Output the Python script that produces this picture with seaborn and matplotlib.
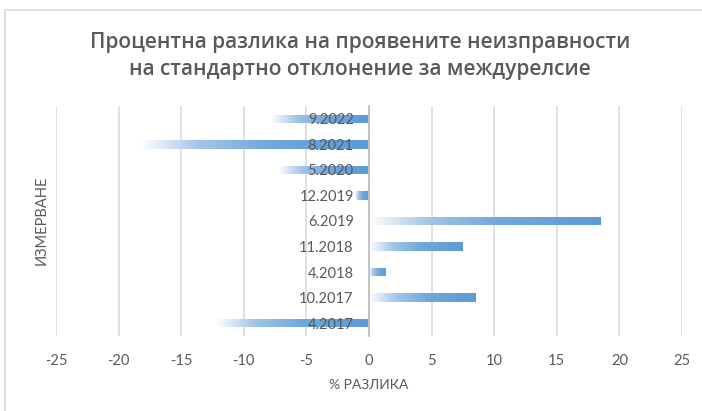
import numpy as np
import pandas as pd
import matplotlib
matplotlib.use("Agg")
import matplotlib.pyplot as plt
from matplotlib.colors import LinearSegmentedColormap
from matplotlib.patches import Rectangle
import seaborn as sns

## data (chronological, bottom to top in the chart)
periods = ["4.2017", "10.2017", "4.2018", "11.2018", "6.2019",
           "12.2019", "5.2020", "8.2021", "9.2022"]
diff_pct = [-12.2, 8.5, 1.3, 7.5, 18.5, -1.1, -7.3, -18.2, -7.8]
x_ticks = [-25, -20, -15, -10, -5, 0, 5, 10, 15, 20, 25]

title = "Процентна разлика на проявените неизправности\nна стандартно отклонение за междурелсие"
x_label = "% РАЗЛИКА"
y_label = "ИЗМЕРВАНЕ"

## setting
sns.set_style("white")
plt.rcParams['font.family'] = ['Lato', 'DejaVu Sans']
plt.rcParams['axes.unicode_minus'] = False
txt_col = "#595959"
grid_col = "#d9d9d9"
bar_col = "#5b9bd5"

df = pd.DataFrame({"period": periods, "diff": diff_pct})

fig = plt.figure(figsize=(7.02, 4.11), dpi=100)
ax = fig.add_axes([56/702, (411-336)/411, (682-56)/702, (336-106)/411])

sns.barplot(data=df, x="diff", y="period", order=periods[::-1], orient="h",
            width=0.33, color=bar_col, ax=ax)

## gradient fill, light on the left -> solid blue on the right
grad = LinearSegmentedColormap.from_list(
    "xl", [(0, "#ffffff"), (0.25, "#a3c6e8"), (0.55, "#72a8db"), (1, bar_col)])
ramp = np.linspace(0, 1, 256).reshape(1, -1)
for p in ax.patches:
    x0, y0 = p.get_x(), p.get_y()
    w, h = p.get_width(), p.get_height()
    left, right = min(x0, x0 + w), max(x0, x0 + w)
    im = ax.imshow(ramp, cmap=grad, aspect="auto", zorder=2,
                   extent=[left, right, y0 + h, y0], interpolation="bilinear")
    im.set_clip_path(p)
    p.set_facecolor("none")
    p.set_edgecolor("none")

ax.set_xlim(-25, 25)
ax.set_ylim(len(periods) - 0.5, -0.5)
ax.set_xticks(x_ticks)
ax.xaxis.grid(True, color=grid_col, lw=1.1)
ax.set_axisbelow(True)

for s in ["top", "right", "bottom"]:
    ax.spines[s].set_visible(False)
ax.spines["left"].set_position(("data", 0))
ax.spines["left"].set_color("#bfbfbf")
ax.spines["left"].set_linewidth(1.3)
ax.yaxis.set_zorder(5)

ax.tick_params(axis="x", length=0, pad=13, labelsize=10.5, labelcolor=txt_col)
ax.tick_params(axis="y", length=0, pad=11, labelsize=10.5, labelcolor=txt_col)

ax.set_xlabel(x_label, fontsize=10, color=txt_col, labelpad=8)
ax.set_ylabel("")
fig.text(42/702, 1 - 220/411, y_label, rotation=90, ha="center", va="center",
         fontsize=10.5, color=txt_col)

fig.text(360/702, 1 - 56/411, title, ha="center", va="center", fontsize=15,
         color=txt_col, family=["Open Sans", "DejaVu Sans"], fontweight="semibold",
         linespacing=1.4)

## chart area border
fig.patches.append(Rectangle((5/702, -0.1), 1.2, 1 - 10/411 + 0.1, transform=fig.transFigure,
                             fill=False, edgecolor="#d9d9d9", lw=1.2, zorder=0))

plt.savefig("out.png", dpi=100)
